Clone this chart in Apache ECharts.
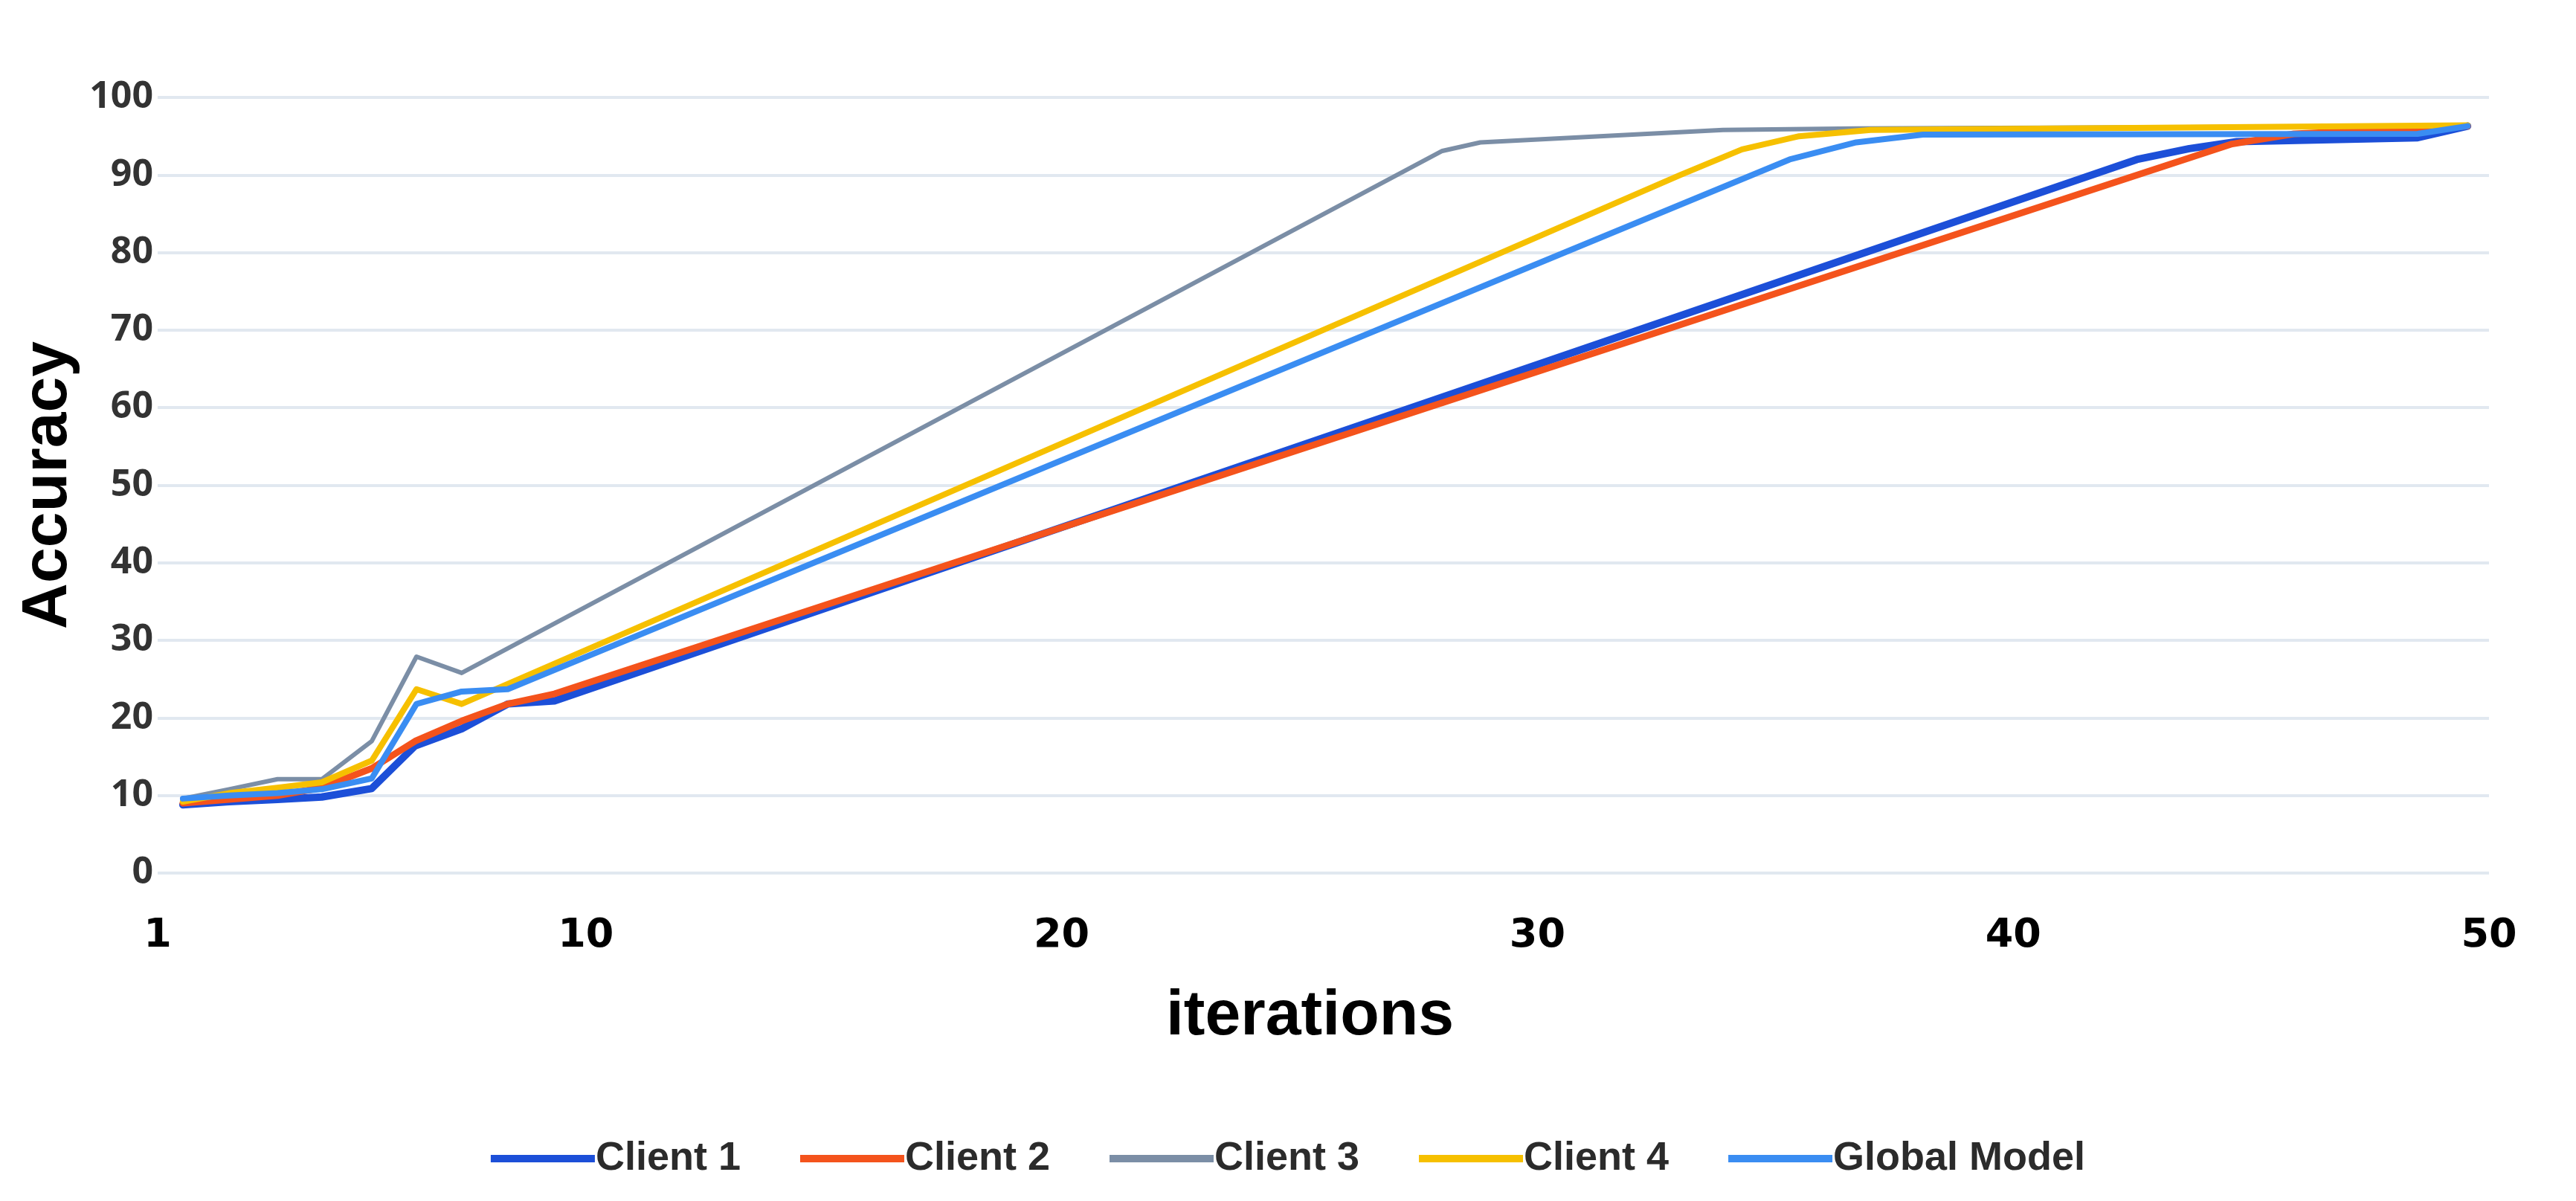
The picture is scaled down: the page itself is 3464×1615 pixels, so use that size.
<!DOCTYPE html>
<html>
<head>
<meta charset="utf-8">
<script src="https://cdn.jsdelivr.net/npm/echarts@6/dist/echarts.min.js"></script>
<style>
html,body{margin:0;padding:0;background:#fff;}
#chart{width:3464px;height:1615px;}
</style>
</head>
<body>
<div id="chart"></div>
<script>
const seriesNames = ['Client 1', 'Client 2', 'Client 3', 'Client 4', 'Global Model'];
const xTickLabels = [1, 10, 20, 30, 40, 50];

const client1 = [[1.53, 8.8], [2.5, 9.2], [3.52, 9.5], [4.45, 9.8], [5.5, 10.9], [6.41, 16.4], [7.39, 18.6], [8.36, 21.8], [9.34, 22.2], [42.6, 92.0], [43.7, 93.4], [44.7, 94.3], [48.5, 94.8], [49.55, 96.3]];
const client2 = [[1.53, 9.0], [2.5, 9.5], [3.52, 10.0], [4.45, 11.0], [5.5, 13.5], [6.41, 17.0], [7.39, 19.6], [8.36, 21.8], [9.34, 23.1], [44.6, 94.0], [45.9, 95.3], [49.55, 96.3]];
const client3 = [[1.53, 9.6], [2.5, 10.8], [3.52, 12.1], [4.45, 12.1], [5.5, 17.0], [6.44, 27.9], [7.39, 25.8], [28.0, 93.1], [28.8, 94.2], [33.9, 95.8], [36.7, 96.0], [49.55, 96.3]];
const client4 = [[1.53, 9.2], [2.5, 10.3], [3.52, 11.0], [4.45, 11.7], [5.5, 14.5], [6.44, 23.7], [7.39, 21.8], [33.0, 90.0], [34.3, 93.3], [35.5, 95.0], [37.0, 95.8], [49.55, 96.4]];
const globalModel = [[1.53, 9.6], [2.5, 10.0], [3.52, 10.3], [4.45, 10.8], [5.5, 12.2], [6.44, 21.8], [7.39, 23.4], [8.36, 23.7], [35.3, 92.0], [36.7, 94.2], [38.1, 95.2], [48.5, 95.3], [49.55, 96.3]];

const seriesData = [client1, client2, client3, client4, globalModel];
const colors = ['#1c4fd8', '#f4531c', '#7b8ea6', '#f6c000', '#3a8df2'];
const widths = [10, 9, 6, 8, 8];

const chart = echarts.init(document.getElementById('chart'), null, {renderer: 'canvas'});
chart.setOption({
  backgroundColor: '#ffffff',
  animation: false,
  grid: {left: 212, right: 117, top: 131, bottom: 441, containLabel: false},
  legend: {
    data: seriesNames,
    left: 'center',
    top: 1526,
    icon: 'rect',
    itemWidth: 140,
    itemHeight: 10,
    itemGap: 80,
    textStyle: {fontSize: 54, fontWeight: 'bold', color: '#2b2b2b', fontFamily: 'Liberation Sans', padding: [0, 0, 0, -4]}
  },
  xAxis: {
    type: 'value',
    min: 1,
    max: 50,
    name: 'iterations',
    nameLocation: 'middle',
    nameGap: 150,
    nameTextStyle: {fontSize: 86, fontWeight: 'bold', color: '#000', fontFamily: 'Liberation Sans', padding: [0, 36, 0, 0]},
    axisLine: {show: false},
    axisTick: {show: false},
    splitLine: {show: false},
    axisLabel: {customValues: xTickLabels, margin: 58, fontSize: 54, fontWeight: 'bold', color: '#000', fontFamily: 'DejaVu Sans'}
  },
  yAxis: {
    type: 'value',
    min: 0,
    max: 100,
    interval: 10,
    name: 'Accuracy',
    nameLocation: 'middle',
    nameRotate: 90,
    nameGap: 104,
    nameTextStyle: {fontSize: 86, fontWeight: 'bold', color: '#000', fontFamily: 'Liberation Sans'},
    axisLine: {show: false},
    axisTick: {show: false},
    axisLabel: {margin: 6, fontSize: 50, fontWeight: 'bold', color: '#333', fontFamily: 'Open Sans'},
    splitLine: {show: true, lineStyle: {color: '#e1e8f0', width: 4}}
  },
  series: seriesNames.map((name, i) => ({
    name: name,
    type: 'line',
    data: seriesData[i],
    showSymbol: false,
    symbol: 'none',
    color: colors[i],
    lineStyle: {color: colors[i], width: widths[i], join: 'round', cap: 'round'}
  }))
});
</script>
</body>
</html>
